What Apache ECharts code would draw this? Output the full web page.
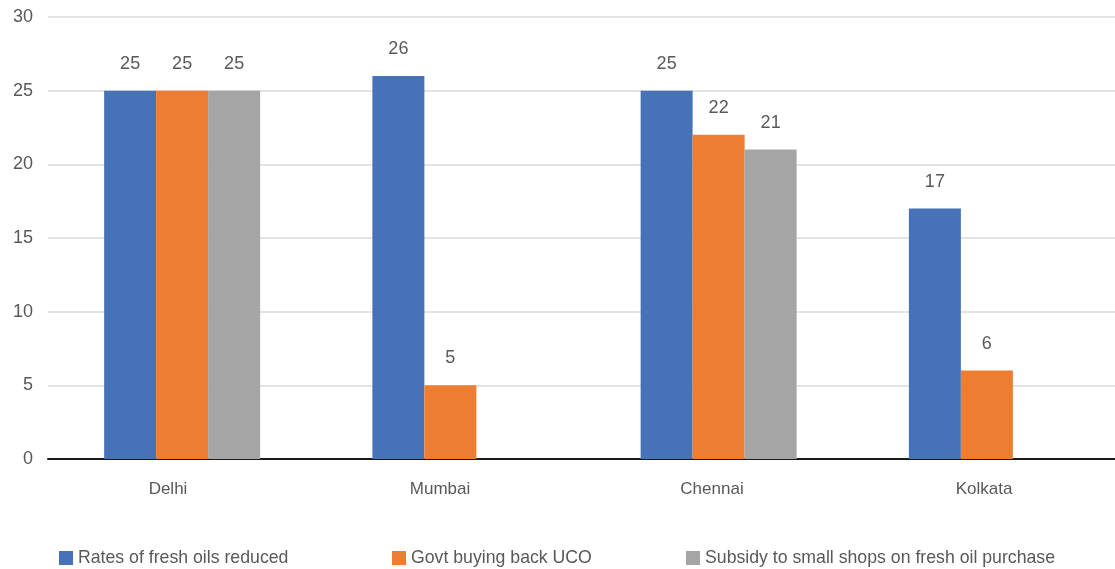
<!DOCTYPE html>
<html><head><meta charset="utf-8">
<script src="https://cdn.jsdelivr.net/npm/echarts@6/dist/echarts.min.js"></script>
<style>html,body{margin:0;padding:0;background:#fff;overflow:hidden;width:1115px;height:569px}#c{width:1130px;height:569px}</style>
</head><body><div id="c"></div>
<script>
const categories = ['Delhi', 'Mumbai', 'Chennai', 'Kolkata'];
const seriesNames = ['Rates of fresh oils reduced', 'Govt buying back UCO', 'Subsidy to small shops on fresh oil purchase'];
const ratesReduced = [25, 26, 25, 17];
const govtBuyBack = [25, 5, 22, 6];
const subsidyShops = [25, null, 21, null];
const yTicks = [0, 5, 10, 15, 20, 25, 30];
const colors = ['#4672B8', '#ED7D31', '#A5A5A5'];

const font = 'Liberation Sans, Arial, sans-serif';
const txt = '#595959';
const chart = echarts.init(document.getElementById('c'));
const values = [ratesReduced, govtBuyBack, subsidyShops];
const legendLefts = [54, 387, 681];
chart.setOption({
  animation: false,
  grid: [
    { left: 48, width: 1073, top: 17, bottom: 110 },
    { left: 32, width: 1088, top: 17, bottom: 110 }
  ],
  legend: seriesNames.map((n, i) => ({
    data: [n], left: legendLefts[i], top: 544, itemWidth: 14, itemHeight: 14, itemGap: 6,
    icon: 'rect', textStyle: { fontFamily: font, fontSize: 17.7, color: txt }
  })),
  xAxis: [{
    type: 'category', data: categories, gridIndex: 0,
    axisLine: { lineStyle: { color: '#1a1a1a', width: 2 } },
    axisTick: { show: false },
    axisLabel: { show: false }
  }, {
    type: 'category', data: categories, gridIndex: 1,
    axisLine: { show: false },
    axisTick: { show: false },
    axisLabel: { fontFamily: font, fontSize: 17, color: txt, margin: 22 }
  }],
  yAxis: [{
    type: 'value', min: yTicks[0], max: yTicks[yTicks.length - 1], interval: 5, gridIndex: 0,
    axisLine: { show: false }, axisTick: { show: false },
    axisLabel: { fontFamily: font, fontSize: 18, color: txt, margin: 15 },
    splitLine: { lineStyle: { color: '#e3e3e3', width: 2 } }
  }, {
    type: 'value', min: 0, max: 30, interval: 5, gridIndex: 1, show: false
  }],
  series: values.map((v, i) => ({
    type: 'bar', name: seriesNames[i], data: v,
    xAxisIndex: 0, yAxisIndex: 0,
    itemStyle: { color: colors[i] },
    barGap: '0%', barWidth: 52,
    label: { show: true, position: 'top', distance: 18, fontFamily: font, fontSize: 18, color: txt }
  }))
});
</script></body></html>
